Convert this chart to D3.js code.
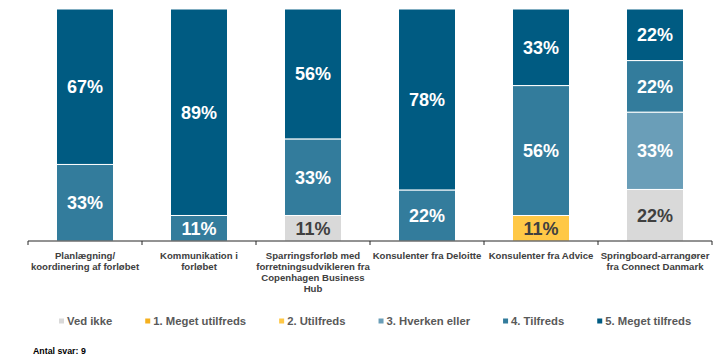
<!DOCTYPE html>
<html>
<head>
<meta charset="utf-8">
<script src="https://cdn.jsdelivr.net/npm/d3@7"></script>
<style>
  html, body { margin: 0; padding: 0; background: #fff; }
  svg { display: block; font-family: "Liberation Sans", Arial, Helvetica, sans-serif; }
</style>
</head>
<body>
<svg id="chart" width="720" height="357"></svg>
<script>
// Survey categories (line breaks mark where the axis label wraps)
const categories = [
  "Planlægning/\nkoordinering af forløbet",
  "Kommunikation i\nforløbet",
  "Sparringsforløb med\nforretningsudvikleren fra\nCopenhagen Business\nHub",
  "Konsulenter fra Deloitte",
  "Konsulenter fra Advice",
  "Springboard-arrangører\nfra Connect Danmark"
];

// Answer levels, stacked from the bottom up
const seriesNames = [
  "Ved ikke",
  "1. Meget utilfreds",
  "2. Utilfreds",
  "3. Hverken eller",
  "4. Tilfreds",
  "5. Meget tilfreds"
];

// Share of answers (%) per level, one entry per category
const vedIkke        = [0, 0, 11, 0, 0, 22];
const megetUtilfreds = [0, 0, 0, 0, 0, 0];
const utilfreds      = [0, 0, 0, 0, 11, 0];
const hverkenEller   = [0, 0, 0, 0, 0, 33];
const tilfreds       = [33, 11, 33, 22, 56, 22];
const megetTilfreds  = [67, 89, 56, 78, 33, 22];

const seriesValues = [vedIkke, megetUtilfreds, utilfreds, hverkenEller, tilfreds, megetTilfreds];
const seriesColors = ["#D9D9D9", "#F5B01E", "#FFC846", "#6A9EB8", "#337C9C", "#005B82"];
const darkLabelSeries = new Set(["Ved ikke", "1. Meget utilfreds", "2. Utilfreds"]);

const footnote = "Antal svar: 9";

// Rows for d3.stack
const rows = categories.map((c, i) => {
  const r = { category: c };
  seriesNames.forEach((s, j) => { r[s] = seriesValues[j][i]; });
  return r;
});

const svg = d3.select("#chart");
const plot = { left: 28, right: 712, top: 9, bottom: 241 };

const x = d3.scaleBand()
  .domain(categories)
  .range([plot.left, plot.right])
  .paddingInner(0.5)
  .paddingOuter(0.25);

const y = d3.scaleLinear()
  .domain([0, 1])
  .range([plot.bottom, plot.top]);

const color = d3.scaleOrdinal().domain(seriesNames).range(seriesColors);

// Each column is shown as a 100% stack
const stacked = d3.stack()
  .keys(seriesNames)
  .offset(d3.stackOffsetExpand)(rows);

const layers = svg.append("g")
  .selectAll("g")
  .data(stacked)
  .join("g")
  .attr("fill", d => color(d.key));

layers.selectAll("rect")
  .data(d => d.filter(p => p.data[d.key] > 0).map(p => ({ p, key: d.key })))
  .join("rect")
  .attr("x", d => x(d.p.data.category))
  .attr("width", x.bandwidth())
  .attr("y", d => y(d.p[1]))
  .attr("height", d => y(d.p[0]) - y(d.p[1]))
  .attr("stroke", "#fff")
  .attr("stroke-width", 1);

// Value labels inside each segment
layers.selectAll("text")
  .data(d => d.filter(p => p.data[d.key] > 0).map(p => ({ p, key: d.key })))
  .join("text")
  .attr("x", d => x(d.p.data.category) + x.bandwidth() / 2)
  .attr("y", d => (y(d.p[0]) + y(d.p[1])) / 2)
  .attr("dy", "0.36em")
  .attr("text-anchor", "middle")
  .attr("font-size", 18)
  .attr("font-weight", "bold")
  .attr("fill", d => darkLabelSeries.has(d.key) ? "#404040" : "#ffffff")
  .text(d => d.p.data[d.key] + "%");

// Category axis: baseline with ticks at the band boundaries
const xEdges = d3.scaleBand().domain(categories).range([plot.left, plot.right]);
const axis = svg.append("g").attr("transform", `translate(0,${plot.bottom})`);
axis.append("line")
  .attr("x1", plot.left).attr("x2", plot.right)
  .attr("stroke", "#262626").attr("stroke-width", 1);
const edges = categories.map(c => xEdges(c)).concat([plot.right]);
axis.selectAll("line.tick")
  .data(edges)
  .join("line")
  .attr("class", "tick")
  .attr("x1", d => d).attr("x2", d => d)
  .attr("y1", 0).attr("y2", 4)
  .attr("stroke", "#262626").attr("stroke-width", 1);

const catLabels = axis.selectAll("text.cat")
  .data(categories)
  .join("text")
  .attr("class", "cat")
  .attr("text-anchor", "middle")
  .attr("font-size", 9.6)
  .attr("font-weight", "bold")
  .attr("fill", "#404040");
catLabels.each(function(c) {
  const t = d3.select(this);
  c.split("\n").forEach((line, i) => {
    t.append("tspan")
      .attr("x", xEdges(c) + xEdges.bandwidth() / 2)
      .attr("y", 18 + i * 11)
      .text(line);
  });
});

// Legend
const legend = svg.append("g").attr("transform", "translate(59,321)");
let cursor = 0;
seriesNames.forEach(name => {
  const item = legend.append("g").attr("transform", `translate(${cursor},0)`);
  item.append("rect")
    .attr("x", 0).attr("y", -2.5)
    .attr("width", 5).attr("height", 5)
    .attr("fill", color(name));
  const label = item.append("text")
    .attr("x", 8)
    .attr("dy", "0.36em")
    .attr("font-size", 11.3)
    .attr("font-weight", "bold")
    .attr("fill", "#595959")
    .text(name);
  cursor += 8 + label.node().getComputedTextLength() + 33;
});

svg.append("text")
  .attr("x", 33)
  .attr("y", 351)
  .attr("dy", "0.36em")
  .attr("font-size", 8.8)
  .attr("font-weight", "bold")
  .attr("fill", "#000")
  .text(footnote);
</script>
</body>
</html>
